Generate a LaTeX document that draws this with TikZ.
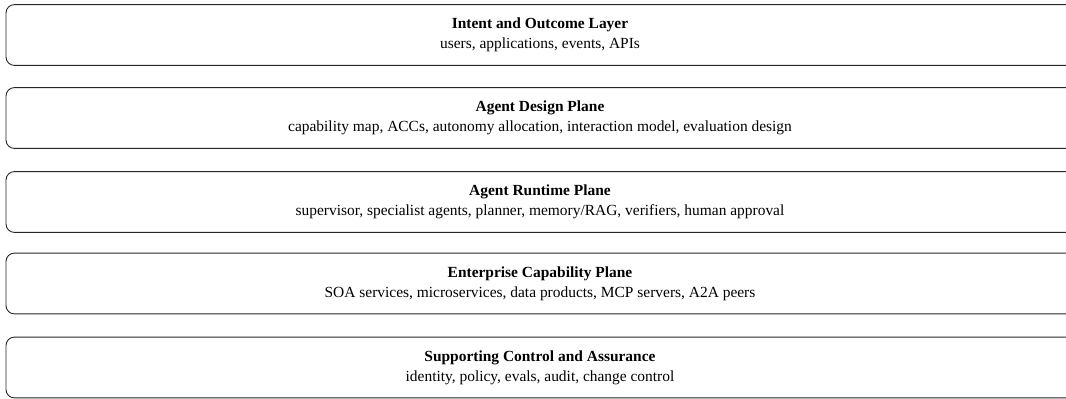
\documentclass[tikz,border=0pt]{standalone}
\usepackage{fontspec}
\setmainfont{Liberation Serif}
\begin{document}
\begin{tikzpicture}[x=0.6667pt,y=-0.6667pt,
  layer/.style={draw=black!85, line width=0.6pt, rounded corners=5.5pt,
    minimum width=712pt, minimum height=40.5pt, inner sep=0pt,
    align=center, font=\fontsize{10.3}{13.3}\selectfont}]
\clip (0,0) rectangle (1066,399);
\node[layer] (intent) at (540,35) {\textbf{Intent and Outcome Layer}\\users, applications, events, APIs};
\node[layer] (design) at (540,118) {\textbf{Agent Design Plane}\\capability map, ACCs, autonomy allocation, interaction model, evaluation design};
\node[layer] (runtime) at (540,202) {\textbf{Agent Runtime Plane}\\supervisor, specialist agents, planner, memory/RAG, verifiers, human approval};
\node[layer] (capability) at (540,283.5) {\textbf{Enterprise Capability Plane}\\SOA services, microservices, data products, MCP servers, A2A peers};
\node[layer] (control) at (540,367.5) {\textbf{Supporting Control and Assurance}\\identity, policy, evals, audit, change control};
\end{tikzpicture}
\end{document}
